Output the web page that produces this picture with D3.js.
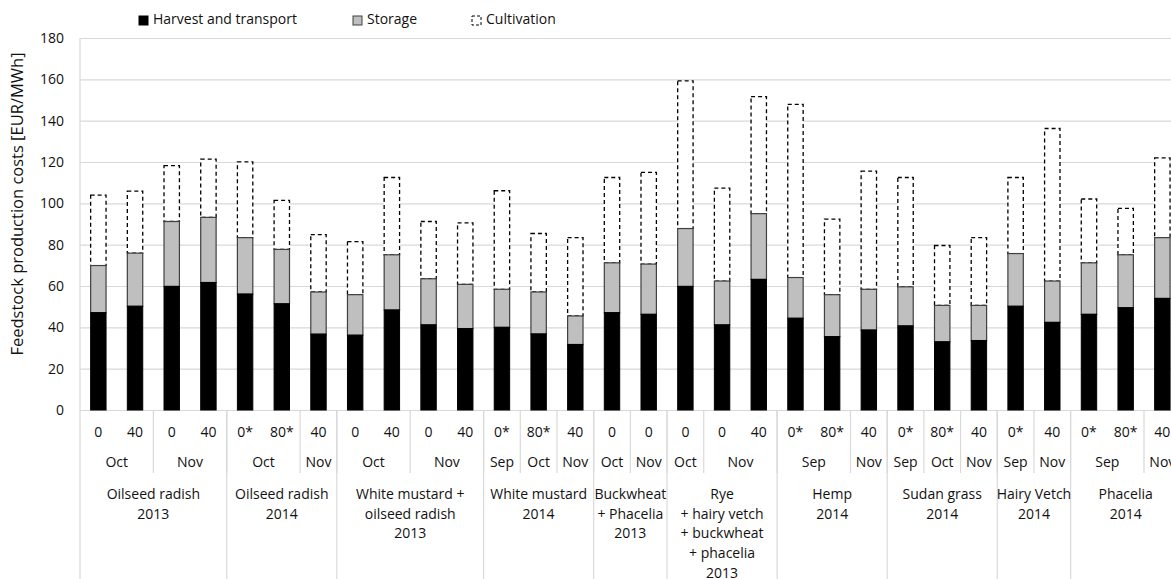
<!DOCTYPE html>
<html>
<head>
<meta charset="utf-8">
<script src="https://cdn.jsdelivr.net/npm/d3@7"></script>
<style>
  html, body { margin: 0; padding: 0; background: #fff; }
  svg { display: block; font-family: "Open Sans", "Noto Sans", sans-serif; }
</style>
</head>
<body>
<svg id="chart" width="1171" height="579"></svg>
<script>
// Feedstock production cost components per treatment [EUR/MWh]
const seriesNames = ["Harvest and transport", "Storage", "Cultivation"];

const rates = ["0","40","0","40", "0*","80*","40", "0","40","0","40", "0*","80*","40",
               "0","0", "0","0","40", "0*","80*","40", "0*","80*","40", "0*","40", "0*","80*","40"];
const months = ["Oct","Oct","Nov","Nov", "Oct","Oct","Nov", "Oct","Oct","Nov","Nov", "Sep","Oct","Nov",
                "Oct","Nov", "Oct","Nov","Nov", "Sep","Sep","Nov", "Sep","Oct","Nov", "Sep","Nov", "Sep","Sep","Nov"];
const groupOf = [0,0,0,0, 1,1,1, 2,2,2,2, 3,3,3, 4,4, 5,5,5, 6,6,6, 7,7,7, 8,8, 9,9,9];
const groupLabels = [
  ["Oilseed radish", "2013"],
  ["Oilseed radish", "2014"],
  ["White mustard +", "oilseed radish", "2013"],
  ["White mustard", "2014"],
  ["Buckwheat", "+ Phacelia", "2013"],
  ["Rye", "+ hairy vetch", "+ buckwheat", "+ phacelia", "2013"],
  ["Hemp", "2014"],
  ["Sudan grass", "2014"],
  ["Hairy Vetch", "2014"],
  ["Phacelia", "2014"]
];

const harvest = [47.1,50.2,59.8,61.7, 56.1,51.4,36.7, 36.2,48.4,41.2,39.4, 40.0,36.8,31.7,
                 47.1,46.3, 59.8,41.2,63.2, 44.4,35.5,38.7, 40.7,33.0,33.6, 50.2,42.4, 46.3,49.5,54.0];
const storage = [22.8,25.7,31.4,31.5, 27.3,26.3,20.4, 19.6,26.7,22.3,21.4, 18.4,20.3,13.8,
                 24.1,24.3, 28.0,21.2,31.8, 19.7,20.3,19.7, 18.9,17.6,17.0, 25.5,20.0, 24.9,25.6,29.4];
const cultivation = [34.1,30.0,27.0,28.2, 36.7,23.7,27.8, 25.7,37.4,27.7,29.7, 47.7,28.3,37.9,
                     41.3,44.4, 71.5,45.0,56.6, 83.8,36.6,57.2, 52.9,29.0,32.8, 36.8,73.8, 30.9,22.5,38.6];

const yTicks = [0,20,40,60,80,100,120,140,160,180];

const svg = d3.select("#chart");
const plot = { left: 80, right: 1180.7, top: 38, bottom: 410 };
const textColor = "#111";
const fontSize = 14;

const idx = d3.range(rates.length);
const x = d3.scaleBand().domain(idx).range([plot.left, plot.right]).paddingInner(0.58).paddingOuter(0.29);
const y = d3.scaleLinear().domain([0, 180]).range([plot.bottom, plot.top]);

const gridColor = "#d9d9d9";

// horizontal gridlines
svg.append("g").selectAll("line").data(yTicks).join("line")
  .attr("x1", plot.left).attr("x2", 1171)
  .attr("y1", d => y(d) + 0.5).attr("y2", d => y(d) + 0.5)
  .attr("stroke", gridColor).attr("stroke-width", 1.2);

// y axis labels
const yAxis = d3.axisLeft(y).tickValues(yTicks).tickSize(0).tickPadding(0);
const yg = svg.append("g").attr("transform", `translate(${plot.left - 16},0)`).call(yAxis);
yg.select(".domain").remove();
yg.selectAll("text").attr("font-size", fontSize).attr("fill", textColor)
  .attr("font-family", "'Open Sans', sans-serif");

// y axis title
svg.append("text")
  .attr("transform", `translate(19,204) rotate(-90)`)
  .attr("text-anchor", "middle").attr("dominant-baseline", "middle")
  .attr("font-size", 16.5).attr("fill", textColor)
  .text("Feedstock production costs [EUR/MWh]");

// stacked bars
const rows = idx.map(i => ({ i, h: harvest[i], s: storage[i], c: cultivation[i] }));
const stack = d3.stack().keys(["h", "s", "c"])(rows);
const styles = [
  { fill: "#000000", stroke: "#000000", dash: null, sw: 1 },
  { fill: "#bfbfbf", stroke: "#404040", dash: null, sw: 1.2 },
  { fill: "#ffffff", stroke: "#000000", dash: "4,3", sw: 1.3 }
];
const bw = x.bandwidth();
// cultivation first so the solid storage outline sits over its bottom edge
[2, 1, 0].forEach(k => {
  const st = styles[k];
  svg.append("g").selectAll("rect").data(stack[k]).join("rect")
    .attr("x", d => x(d.data.i))
    .attr("width", bw)
    .attr("y", d => y(d[1]))
    .attr("height", d => y(d[0]) - y(d[1]))
    .attr("fill", st.fill)
    .attr("stroke", st.stroke)
    .attr("stroke-width", st.sw)
    .attr("stroke-dasharray", st.dash);
});

// category axis: rate row, month row, crop row
const step = x.step();
const bandStart = i => plot.left + i * step;

// rate labels
svg.append("g").selectAll("text").data(idx).join("text")
  .attr("x", i => x(i) + bw / 2).attr("y", 433)
  .attr("text-anchor", "middle").attr("dominant-baseline", "middle")
  .attr("font-size", fontSize).attr("fill", textColor)
  .text(i => rates[i]);

// month spans (consecutive bars with the same month in the same crop)
const monthSpans = [];
idx.forEach(i => {
  const last = monthSpans[monthSpans.length - 1];
  if (last && last.g === groupOf[i] && last.m === months[i]) last.end = i;
  else monthSpans.push({ g: groupOf[i], m: months[i], start: i, end: i });
});
const groupSpans = groupLabels.map((lab, g) => {
  const members = idx.filter(i => groupOf[i] === g);
  return { lab, start: d3.min(members), end: d3.max(members) };
});

svg.append("g").selectAll("text").data(monthSpans).join("text")
  .attr("x", d => (bandStart(d.start) + bandStart(d.end + 1)) / 2).attr("y", 463)
  .attr("text-anchor", "middle").attr("dominant-baseline", "middle")
  .attr("font-size", fontSize).attr("fill", textColor)
  .text(d => d.m);

// month separators
svg.append("g").selectAll("line").data(monthSpans.filter(d => d.start > 0)).join("line")
  .attr("x1", d => bandStart(d.start)).attr("x2", d => bandStart(d.start))
  .attr("y1", plot.bottom).attr("y2", 473)
  .attr("stroke", gridColor).attr("stroke-width", 1.2);

// crop separators
svg.append("g").selectAll("line").data(groupSpans.filter(d => d.start > 0)).join("line")
  .attr("x1", d => bandStart(d.start)).attr("x2", d => bandStart(d.start))
  .attr("y1", plot.bottom).attr("y2", 579)
  .attr("stroke", gridColor).attr("stroke-width", 1.2);

// left edge of the plot and category axis
svg.append("line")
  .attr("x1", plot.left).attr("x2", plot.left)
  .attr("y1", plot.top).attr("y2", 579)
  .attr("stroke", gridColor).attr("stroke-width", 1.2);

// crop labels
const cropG = svg.append("g").selectAll("text").data(groupSpans).join("text")
  .attr("text-anchor", "middle")
  .attr("font-size", fontSize).attr("fill", textColor);
cropG.each(function(d) {
  const cx = (bandStart(d.start) + bandStart(d.end + 1)) / 2;
  d3.select(this).selectAll("tspan").data(d.lab).join("tspan")
    .attr("x", cx).attr("y", (t, j) => 499 + j * 19.7)
    .text(t => t);
});

// legend
const legendItems = [
  { name: seriesNames[0], x: 139, st: styles[0] },
  { name: seriesNames[1], x: 353, st: styles[1] },
  { name: seriesNames[2], x: 472, st: { fill: "#fff", stroke: "#000", dash: "3,2", sw: 1 } }
];
const lg = svg.append("g").selectAll("g").data(legendItems).join("g")
  .attr("transform", d => `translate(${d.x},16)`);
lg.append("rect").attr("width", 9).attr("height", 9)
  .attr("fill", d => d.st.fill).attr("stroke", d => d.st.stroke)
  .attr("stroke-width", 1).attr("stroke-dasharray", d => d.st.dash);
lg.append("text").attr("x", 14).attr("y", 4.5)
  .attr("dominant-baseline", "middle").attr("font-size", fontSize).attr("fill", textColor)
  .text(d => d.name);
</script>
</body>
</html>
